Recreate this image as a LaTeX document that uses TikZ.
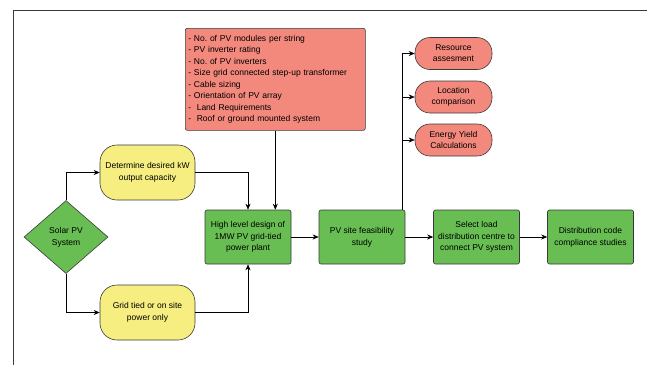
\documentclass[tikz,border=0pt]{standalone}
\usepackage{fontspec}
\setmainfont{Liberation Sans}
\usepackage{tikz}
\usetikzlibrary{arrows.meta,shapes.geometric}
\definecolor{leafc}{HTML}{68BE52}
\definecolor{salmc}{HTML}{F3887C}
\definecolor{lemc}{HTML}{F6EE80}
\definecolor{edgec}{HTML}{3A3A3A}
\frenchspacing
\tikzset{
  ar/.style={-{Stealth[length=6pt,width=5pt]},semithick,black},
  stage/.style={draw=edgec,semithick,rounded corners=2pt,fill=leafc,align=center,
    minimum width=86pt,minimum height=54pt,inner sep=2pt,
    font=\fontsize{8.5}{11.6}\selectfont},
  pill/.style={draw=edgec,semithick,rounded corners=17pt,fill=lemc,align=center,
    minimum width=95pt,minimum height=55pt,inner sep=2pt,
    font=\fontsize{8.5}{11.6}\selectfont},
  task/.style={draw=edgec,semithick,rounded corners=15pt,fill=salmc,align=center,
    minimum width=77pt,minimum height=32pt,inner sep=1pt,
    font=\fontsize{8.5}{11}\selectfont},
  listbox/.style={draw=edgec,semithick,rounded corners=2pt,fill=salmc,align=left,
    text width=174pt,minimum height=102pt,inner xsep=3pt,inner ysep=3pt,
    font=\fontsize{8.5}{11.5}\selectfont}
}
\begin{document}
\begin{tikzpicture}[x=1pt,y=-1pt]
\useasboundingbox (0,0) rectangle (647,365);
% page frame
\draw[edgec,thin] (13,365) -- (13,10) -- (647,10);
% nodes
\node[diamond,draw=edgec,semithick,fill=leafc,minimum width=84pt,minimum height=73pt,
  inner sep=0pt,align=center,font=\fontsize{8.5}{11.6}\selectfont] (sys) at (66,237)
  {Solar PV\\System};
\node[pill] (kw) at (147.5,172.5) {Determine desired kW\\output capacity};
\node[pill] (grid) at (147.5,312.5) {Grid tied or on site\\power only};
\node[stage] (hl) at (248,237) {High level design of\\1MW PV grid-tied\\power plant};
\node[stage] (feas) at (362,237) {PV site feasibility\\study};
\node[stage] (load) at (476.5,237) {Select load\\distribution centre to\\connect PV system};
\node[stage] (code) at (590.5,237) {Distribution code\\compliance studies};
\node[listbox,anchor=north west] (design) at (185,28) {%
- No. of PV modules per string\\
- PV inverter rating\\
- No. of PV inverters\\
- Size grid connected step-up transformer\\
- Cable sizing\\
- Orientation of PV array\\
-\ \ Land Requirements\\
-\ \ Roof or ground mounted system\par\vspace{5pt}};
\node[task] (res) at (453.5,53.5) {Resource\\assesment};
\node[task] (loc) at (453.5,97) {Location\\comparison};
\node[task] (yield) at (453.5,140) {Energy Yield\\Calculations};
\coordinate (tap) at ([xshift=-3pt]feas.north east);
% connectors
\draw[ar] (sys.north) |- (kw.west);
\draw[ar] (sys.south) |- (grid.west);
\draw[ar] (kw.east) -| (hl.north);
\draw[ar] (grid.east) -| (hl.south);
\draw[ar] (design.south) -- (design.south |- hl.north);
\draw[ar] (hl) -- (feas);
\draw[ar] (feas) -- (load);
\draw[ar] (load) -- (code);
\draw[ar] (tap) |- (res.west);
\draw[ar] (tap |- loc.west) -- (loc.west);
\draw[ar] (tap |- yield.west) -- (yield.west);
\end{tikzpicture}
\end{document}
